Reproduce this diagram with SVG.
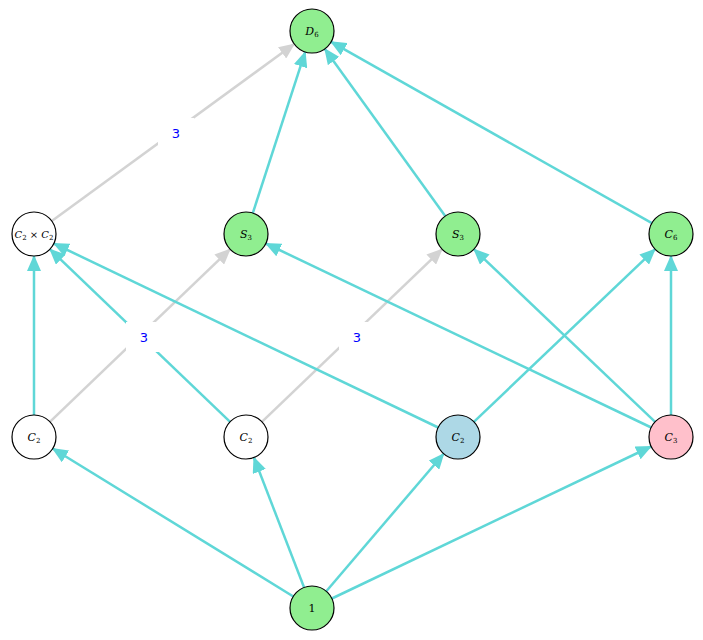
<svg xmlns="http://www.w3.org/2000/svg" width="703" height="640" viewBox="0 0 703 640">
<defs>
<marker id="ac" markerUnits="userSpaceOnUse" markerWidth="16" markerHeight="14" refX="15" refY="7" orient="auto"><path d="M0,0 L16,7 L0,14 z" fill="#5fd7d7"/></marker>
<marker id="ag" markerUnits="userSpaceOnUse" markerWidth="16" markerHeight="14" refX="15" refY="7" orient="auto"><path d="M0,0 L16,7 L0,14 z" fill="#d3d3d3"/></marker>
<style>
.c{stroke:#5fd7d7;stroke-width:2.5;fill:none;marker-end:url(#ac)}
.g{stroke:#d3d3d3;stroke-width:2.5;fill:none;marker-end:url(#ag)}
.n{stroke:#000;stroke-width:1.2}
.t{font-family:"DejaVu Serif",serif;font-style:italic;font-size:11px;text-anchor:middle}
.s{font-size:7px;font-style:normal}
.l{font-family:"DejaVu Sans",sans-serif;font-size:13px;fill:#0000ff;text-anchor:middle}
</style>
</defs>
<rect width="703" height="640" fill="#fff"/>
<g id="connectors">
<line class="g" x1="51.8" y1="221" x2="294.2" y2="44"/>
<line class="g" x1="49.9" y1="421.8" x2="230.1" y2="249.2"/>
<line class="g" x1="261.9" y1="421.8" x2="442.1" y2="249.2"/>
<line class="c" x1="252.8" y1="213.1" x2="305.2" y2="51.9"/>
<line class="c" x1="445.2" y1="216.1" x2="324.8" y2="48.9"/>
<line class="c" x1="651.9" y1="223.2" x2="331.1" y2="41.8"/>
<line class="c" x1="34" y1="415" x2="34" y2="256"/>
<line class="c" x1="230.1" y1="421.8" x2="49.9" y2="249.2"/>
<line class="c" x1="438.2" y1="427.5" x2="53.8" y2="243.5"/>
<line class="c" x1="473.9" y1="421.8" x2="655.1" y2="249.2"/>
<line class="c" x1="651.2" y1="427.5" x2="265.8" y2="243.5"/>
<line class="c" x1="655.1" y1="421.8" x2="473.9" y2="249.2"/>
<line class="c" x1="671" y1="415" x2="671" y2="256"/>
<line class="c" x1="293.3" y1="596.5" x2="52.7" y2="448.5"/>
<line class="c" x1="304.1" y1="587.5" x2="253.9" y2="457.5"/>
<line class="c" x1="326.3" y1="591.3" x2="443.7" y2="453.7"/>
<line class="c" x1="331.9" y1="598.5" x2="651.1" y2="446.5"/>
<rect x="158" y="118" width="36" height="30" fill="#fff"/>
<rect x="126" y="322" width="36" height="30" fill="#fff"/>
<rect x="339" y="322" width="36" height="30" fill="#fff"/>
<text class="l" x="176" y="138">3</text>
<text class="l" x="144" y="342">3</text>
<text class="l" x="357" y="342">3</text>
</g>
<g id="D6"><circle class="n" cx="312" cy="31" r="22" fill="#90ee90"/><text class="t" x="312" y="35">D<tspan class="s" dy="2">6</tspan></text></g>
<g id="C2xC2"><circle class="n" cx="34" cy="234" r="22" fill="#fff"/><text class="t" x="34" y="238" style="font-size:10px">C<tspan class="s" dy="2">2</tspan><tspan dy="-2"> × C</tspan><tspan class="s" dy="2">2</tspan></text></g>
<g id="S3a"><circle class="n" cx="246" cy="234" r="22" fill="#90ee90"/><text class="t" x="246" y="238">S<tspan class="s" dy="2">3</tspan></text></g>
<g id="S3b"><circle class="n" cx="458" cy="234" r="22" fill="#90ee90"/><text class="t" x="458" y="238">S<tspan class="s" dy="2">3</tspan></text></g>
<g id="C6"><circle class="n" cx="671" cy="234" r="22" fill="#90ee90"/><text class="t" x="671" y="238">C<tspan class="s" dy="2">6</tspan></text></g>
<g id="C2a"><circle class="n" cx="34" cy="437" r="22" fill="#fff"/><text class="t" x="34" y="441">C<tspan class="s" dy="2">2</tspan></text></g>
<g id="C2b"><circle class="n" cx="246" cy="437" r="22" fill="#fff"/><text class="t" x="246" y="441">C<tspan class="s" dy="2">2</tspan></text></g>
<g id="C2c"><circle class="n" cx="458" cy="437" r="22" fill="#add8e6"/><text class="t" x="458" y="441">C<tspan class="s" dy="2">2</tspan></text></g>
<g id="C3"><circle class="n" cx="671" cy="437" r="22" fill="#ffc0cb"/><text class="t" x="671" y="441">C<tspan class="s" dy="2">3</tspan></text></g>
<g id="one"><circle class="n" cx="312" cy="608" r="22" fill="#90ee90"/><text class="t" x="312" y="612" style="font-style:normal">1</text></g>
</svg>
